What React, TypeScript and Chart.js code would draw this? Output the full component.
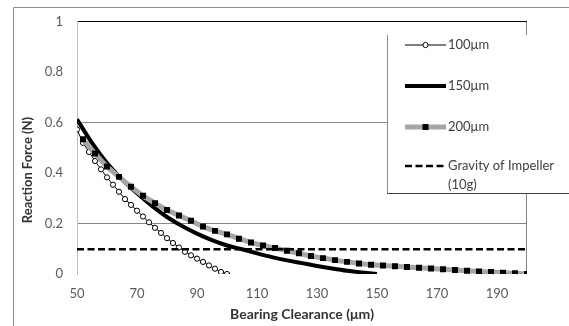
import React, { useEffect, useRef } from "react";
import { Chart, registerables } from "chart.js";

Chart.register(...registerables);

// ---- data ----
const x100 = [50, 52, 54, 56, 58, 60, 62, 64, 66, 68, 70, 72, 74, 76, 78, 80, 82, 84, 86, 88, 90, 92, 94, 96, 98, 100];
const y100 = [0.573, 0.52, 0.484, 0.448, 0.415, 0.383, 0.354, 0.326, 0.297, 0.274, 0.251, 0.228, 0.205, 0.183, 0.163, 0.142, 0.123, 0.105, 0.088, 0.074, 0.061, 0.048, 0.034, 0.021, 0.008, 0];

const x150 = [50, 55, 60, 65, 70, 75, 80, 85, 90, 95, 100, 105, 110, 115, 120, 125, 130, 135, 140, 145, 150];
const y150 = [0.613, 0.52, 0.44, 0.375, 0.32, 0.27, 0.226, 0.19, 0.16, 0.134, 0.113, 0.098, 0.082, 0.067, 0.054, 0.043, 0.032, 0.022, 0.013, 0.006, 0];

const x200 = [52, 56, 60, 64, 68, 72, 76, 80, 84, 88, 92, 96, 100, 104, 108, 112, 116, 120, 124, 128, 132, 136, 140, 144, 148, 152, 156, 160, 164, 168, 172, 176, 180, 184, 188, 192, 196, 200];
const y200 = [0.534, 0.478, 0.426, 0.385, 0.346, 0.31, 0.281, 0.254, 0.232, 0.211, 0.188, 0.171, 0.157, 0.14, 0.125, 0.113, 0.103, 0.092, 0.082, 0.071, 0.063, 0.055, 0.048, 0.042, 0.037, 0.034, 0.031, 0.028, 0.025, 0.022, 0.019, 0.016, 0.013, 0.01, 0.008, 0.005, 0.003, 0];

const xGravity = [50, 200];
const yGravity = [0.098, 0.098];

const seriesLabels = ["100μm", "150μm", "200μm", "Gravity of Impeller\n(10g)"];
const xTicks = [50, 70, 90, 110, 130, 150, 170, 190];
const yTicks = [0, 0.2, 0.4, 0.6, 0.8, 1];
const yTickLabels = ["0", "0.2", "0.4", "0.6", "0.8", "1"];
const xTitle = "Bearing Clearance (μm)";
const yTitle = "Reaction Force (N)";

const FONT = "Lato, 'Liberation Sans', sans-serif";

const pts = (xs: number[], ys: number[]) => xs.map((x, i) => ({ x, y: ys[i] }));

const decorPlugin = {
  id: "decor",
  beforeDraw(chart: any) {
    const { ctx, chartArea } = chart;
    ctx.save();
    // outer frame
    ctx.strokeStyle = "#8c8c8c";
    ctx.lineWidth = 1;
    ctx.beginPath();
    ctx.moveTo(13.5, 326);
    ctx.lineTo(13.5, 7.5);
    ctx.lineTo(569, 7.5);
    ctx.stroke();
    // right plot edge
    ctx.strokeStyle = "#868686";
    ctx.beginPath();
    ctx.moveTo(Math.round(chartArea.right) - 0.5, chartArea.top);
    ctx.lineTo(Math.round(chartArea.right) - 0.5, chartArea.bottom);
    ctx.stroke();
    ctx.restore();
  },
  afterDraw(chart: any) {
    const { ctx } = chart;
    const ds = chart.data.datasets;
    ctx.save();
    // y title
    ctx.translate(28, 170);
    ctx.rotate(-Math.PI / 2);
    ctx.font = `bold 13px ${FONT}`;
    ctx.fillStyle = "#333333";
    ctx.textAlign = "center";
    ctx.textBaseline = "middle";
    ctx.fillText(yTitle, 0, 0);
    ctx.restore();

    // legend box
    ctx.save();
    const L = 387, T = 35, B = 193;
    ctx.fillStyle = "#ffffff";
    ctx.fillRect(L, T, 569 - L, B - T);
    ctx.strokeStyle = "#8c8c8c";
    ctx.lineWidth = 1;
    ctx.beginPath();
    ctx.moveTo(L + 0.5, T);
    ctx.lineTo(L + 0.5, B);
    ctx.stroke();
    ctx.strokeStyle = "#404040";
    ctx.beginPath();
    ctx.moveTo(L, B + 0.5);
    ctx.lineTo(569, B + 0.5);
    ctx.stroke();

    const rows = [45, 86, 127, 166];
    const x0 = 405, x1 = 446, xm = 425.5;
    ds.forEach((d: any, i: number) => {
      const y = rows[i];
      ctx.save();
      ctx.strokeStyle = d.borderColor;
      ctx.lineWidth = d.borderWidth;
      ctx.lineCap = "butt";
      ctx.setLineDash(d.borderDash || []);
      ctx.beginPath();
      ctx.moveTo(x0, y);
      ctx.lineTo(x1, y);
      ctx.stroke();
      ctx.setLineDash([]);
      if (d.pointRadius > 0) {
        if (d.pointStyle === "rect") {
          ctx.fillStyle = d.pointBackgroundColor;
          ctx.fillRect(xm - 3, y - 3, 6, 6);
        } else {
          ctx.fillStyle = d.pointBackgroundColor;
          ctx.strokeStyle = d.pointBorderColor;
          ctx.lineWidth = 1;
          ctx.beginPath();
          ctx.arc(xm, y, d.pointRadius, 0, Math.PI * 2);
          ctx.fill();
          ctx.stroke();
        }
      }
      ctx.restore();
      ctx.font = `13px ${FONT}`;
      ctx.fillStyle = "#404040";
      ctx.textAlign = "left";
      ctx.textBaseline = "middle";
      const lines = String(d.label).split("\n");
      lines.forEach((t: string, k: number) => ctx.fillText(t, 448, y + k * 19));
    });
    ctx.restore();
  },
};

export default function App() {
  const ref = useRef<HTMLCanvasElement | null>(null);
  useEffect(() => {
    if (!ref.current) return;
    const chart = new Chart(ref.current, {
      type: "scatter",
      data: {
        datasets: [
          {
            label: seriesLabels[0],
            data: pts(x100, y100),
            showLine: true,
            borderColor: "#000000",
            borderWidth: 1,
            pointStyle: "circle",
            pointRadius: 2.6,
            pointBackgroundColor: "#ffffff",
            pointBorderColor: "#000000",
            pointBorderWidth: 1,
            order: 3,
          },
          {
            label: seriesLabels[1],
            data: pts(x150, y150),
            showLine: true,
            borderColor: "#000000",
            borderWidth: 4,
            pointRadius: 0,
            cubicInterpolationMode: "monotone",
            order: 2,
          },
          {
            label: seriesLabels[2],
            data: pts(x200, y200),
            showLine: true,
            borderColor: "#a6a6a6",
            borderWidth: 5,
            pointStyle: "rect",
            pointRadius: 4.2,
            pointBackgroundColor: "#000000",
            pointBorderColor: "#000000",
            pointBorderWidth: 0,
            cubicInterpolationMode: "monotone",
            order: 1,
          },
          {
            label: seriesLabels[3],
            data: pts(xGravity, yGravity),
            showLine: true,
            borderColor: "#000000",
            borderWidth: 2.5,
            borderDash: [7, 3.5],
            pointRadius: 0,
            order: 0,
          },
        ] as any,
      },
      options: {
        animation: false,
        responsive: false,
        devicePixelRatio: 1,
        layout: { padding: { left: 0, right: 42, top: 19, bottom: 0 } },
        plugins: { legend: { display: false }, tooltip: { enabled: false } },
        scales: {
          x: {
            type: "linear",
            min: 50,
            max: 200,
            afterBuildTicks: (s: any) => {
              s.ticks = xTicks.map((v) => ({ value: v }));
            },
            afterFit: (s: any) => {
              s.height = 52;
            },
            grid: { display: false, drawTicks: false },
            border: { display: false },
            ticks: {
              padding: 12,
              color: "#595959",
              font: { family: FONT, size: 13 },
              maxRotation: 0,
            },
            title: {
              display: true,
              text: xTitle,
              color: "#333333",
              font: { family: FONT, size: 14, weight: "bold" },
              padding: { top: 0, bottom: 3 },
            },
          },
          y: {
            type: "linear",
            min: 0,
            max: 1,
            afterBuildTicks: (s: any) => {
              s.ticks = yTicks.map((v) => ({ value: v }));
            },
            afterFit: (s: any) => {
              s.width = 77;
            },
            grid: {
              drawTicks: false,
              color: (c: any) => {
                const v = c.tick ? c.tick.value : null;
                if (v === 1) return "#000000";
                if (v === 0.2 || v === 0.6) return "#868686";
                return "rgba(0,0,0,0)";
              },
            },
            border: { display: true, color: "#bfbfbf" },
            ticks: {
              padding: 14,
              color: "#595959",
              font: { family: FONT, size: 13 },
              callback: (v: any, i: number) => yTickLabels[i],
            },
          },
        },
      },
      plugins: [decorPlugin],
    });
    return () => chart.destroy();
  }, []);
  return (
    <div style={{ position: "absolute", left: 0, top: 0, width: 569, height: 326, background: "#fff" }}>
      <canvas ref={ref} width={569} height={326} style={{ width: 569, height: 326 }} />
    </div>
  );
}
